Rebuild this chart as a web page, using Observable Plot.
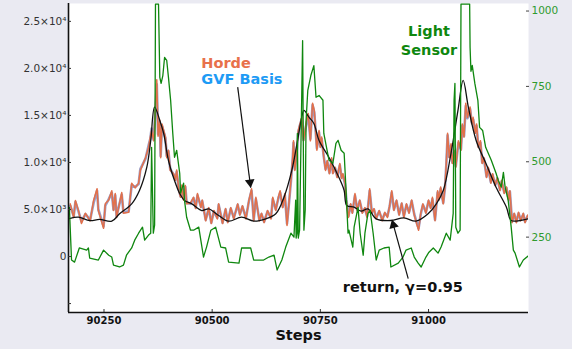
<!DOCTYPE html>
<html><head><meta charset="utf-8">
<script src="https://cdn.jsdelivr.net/npm/d3@7"></script>
<script src="https://cdn.jsdelivr.net/npm/@observablehq/plot@0.6"></script>
<style>body{margin:0;background:#eaeaf2;} svg{display:block}</style>
</head><body><div id="chart"></div>
<script>
const xTicks = [90250, 90500, 90750, 91000];
const yTicks = [-5000, 0, 5000, 10000, 15000, 20000, 25000];
const yTickLabels = ["", "0", "5.0×10³", "1.0×10⁴", "1.5×10⁴", "2.0×10⁴", "2.5×10⁴"];
const rightTicks = [250, 500, 750, 1000];

const hordeSteps = [
90172,90180,90184,90191,90198,90207,90218,90226,90234,90237,
90249,90253,90261,90268,90272,90276,90279,90291,90295,90307,
90314,90322,90330,90334,90346,90353,90357,90360,90365,90372,
90375,90379,90381,90384,90392,90395,90399,90403,90411,90415,
90418,90423,90427,90430,90434,90438,90441,90450,90457,90462,
90466,90474,90477,90485,90492,90498,90504,90512,90515,90524,
90531,90536,90543,90550,90559,90564,90570,90578,90585,90591,
90596,90601,90609,90614,90620,90628,90636,90640,90647,90653,
90657,90663,90668,90673,90678,90682,90686,90688,90691,90696,
90699,90703,90707,90711,90717,90722,90727,90732,90736,90742,
90747,90750,90753,90758,90762,90766,90771,90776,90779,90784,
90789,90795,90799,90802,90807,90810,90815,90820,90824,90830,
90835,90841,90847,90853,90858,90864,90869,90874,90879,90886,
90893,90899,90905,90910,90915,90920,90926,90932,90938,90943,
90949,90955,90961,90967,90972,90977,90982,90987,90994,91000,
91005,91009,91015,91021,91024,91028,91034,91038,91041,91044,
91048,91052,91055,91059,91063,91069,91075,91078,91082,91086,
91090,91096,91100,91103,91108,91111,91115,91120,91124,91128,
91134,91138,91144,91148,91154,91159,91165,91169,91175,91180,
91185,91188,91193,91198,91203,91208,91213,91219,91223,91229];
const hordeValues = [
5600,4150,5960,4900,3500,4600,3800,5960,7200,4900,
3000,5600,6000,7000,4900,6700,4150,6800,4600,4700,
7800,7300,7800,9150,10500,11600,12700,13400,12300,18800,
12800,14500,10500,14100,12700,10500,11300,9150,8800,8100,
9200,7000,6300,7600,6000,7550,5600,5700,6300,5100,
6700,5200,6000,3800,5200,3500,4900,4000,5600,3500,
5100,3600,5200,4000,5600,4400,5400,4000,6000,7200,
3800,6300,3800,4600,3600,4900,4000,6300,4900,6300,
7000,5200,6700,3300,6000,8100,10500,12300,9150,11600,
13400,14100,14800,12300,14100,15200,12300,16300,15500,11300,
13400,11600,12700,10500,9150,10200,8800,10500,8800,9500,
8400,9900,8300,8800,7800,6000,4150,5600,4600,6700,
4900,6000,4600,5200,4150,7200,4600,5100,4000,4900,
3800,4700,4150,5400,7000,4900,6000,4400,5700,4150,
5600,4600,6000,4400,3600,2800,4600,5600,4600,6000,
5100,6300,3800,7000,6000,7400,5600,7400,9900,13100,
10500,12000,9900,11300,9500,12300,11300,14100,12700,16300,
14800,15900,14100,14800,13100,14100,11600,12300,9900,10500,
8400,9500,7800,8800,7550,8400,7000,8100,6700,7400,
6000,7000,3600,4600,3600,4700,3800,4600,3600,4400];
const gvfValues = [
5400,4300,5800,4800,3700,4500,3900,5700,7000,5000,
3200,5400,6100,6800,5000,6500,4300,6600,4700,4800,
7600,7400,7700,9300,10400,11800,12500,13600,12400,18300,
13000,14300,10700,13900,12600,10700,11200,9300,8700,8200,
9000,7100,6400,7500,6100,7400,5700,5600,6200,5200,
6500,5300,5900,3900,5100,3600,4800,4100,5500,3600,
5000,3700,5100,4100,5500,4500,5300,4100,5900,7000,
3900,6100,3900,4500,3700,4800,4100,6100,5000,6200,
6800,5300,6500,3500,5900,8000,10300,12100,9300,11500,
13200,14000,14600,12400,13900,15000,12500,16100,15300,11500,
13200,11700,12500,10600,9300,10100,8900,10300,8900,9400,
8500,9700,8400,8700,7700,6100,4300,5500,4700,6500,
5000,5900,4700,5100,4300,7000,4700,5000,4100,4800,
3900,4600,4300,5300,6800,5000,5900,4500,5600,4300,
5500,4700,5900,4500,3700,3000,4500,5500,4700,5900,
5200,6100,3900,6800,6100,7200,5700,7300,9700,12900,
10600,11800,10000,11100,9600,12100,11400,13900,12800,16000,
14700,15700,14200,14600,13200,13900,11700,12100,10000,10400,
8500,9300,7900,8700,7600,8300,7100,8000,6800,7300,
6100,6900,3700,4500,3700,4600,3900,4500,3700,4300];

const returnSteps = [90170,90191,90217,90240,90268,90286,90314,90332,90349,90358,90367,90379,90388,90399,90413,90425,90436,90453,90476,90492,90515,90538,90568,90596,90624,90647,90666,90684,90696,90707,90712,90724,90735,90747,90770,90793,90805,90811,90828,90844,90860,90879,90913,90943,90971,90999,91018,91034,91052,91068,91080,91092,91110,91133,91156,91180,91191,91212,91230];
const returnValues = [4040,4180,3830,3940,3760,4540,5600,7020,9500,12340,15880,14470,13080,10210,8085,6700,5960,5600,4890,5070,4360,3760,4180,3760,4010,4540,6310,9150,11990,14800,15530,14790,14150,12340,10530,8400,7020,5430,5250,4820,5070,4010,3830,4110,3760,4540,5600,7020,11000,15530,18720,15880,12340,9860,7370,5250,3830,3830,4010];

const lightSteps = [90170,90175,90182,90193,90210,90214,90217,90237,90249,90261,90268,90272,90286,90295,90302,90314,90321,90330,90339,90344,90353,90358,90360,90364,90367,90369,90376,90379,90382,90386,90390,90395,90399,90404,90409,90413,90418,90425,90427,90434,90436,90441,90450,90457,90469,90480,90487,90497,90508,90520,90531,90538,90562,90568,90589,90596,90619,90631,90643,90650,90661,90670,90682,90689,90693,90694,90696,90697,90699,90702,90709,90712,90715,90717,90721,90728,90735,90740,90747,90756,90758,90770,90779,90786,90791,90798,90805,90809,90814,90816,90825,90828,90837,90842,90849,90853,90860,90865,90872,90879,90886,90897,90909,90913,90930,90941,90948,90960,90967,90976,90983,90994,91001,91011,91022,91029,91041,91050,91057,91059,91061,91063,91068,91073,91075,91095,91096,91098,91101,91107,91114,91118,91125,91132,91145,91156,91161,91168,91173,91177,91184,91191,91196,91200,91210,91219,91230];
const lightValues = [349,174,167,214,207,214,180,174,207,190,184,157,151,157,190,214,240,263,283,240,257,263,548,263,290,1023,1023,780,760,786,846,836,780,704,594,515,538,462,396,429,373,316,273,273,283,184,217,273,283,217,214,167,164,214,214,174,174,184,190,141,174,217,263,250,373,247,263,594,247,273,902,273,340,637,737,786,819,714,720,704,594,505,495,561,571,538,528,416,263,273,217,283,349,263,190,263,329,339,263,174,207,214,217,151,164,184,207,214,184,164,151,184,200,214,197,217,263,240,329,704,760,283,263,273,1023,1023,879,800,820,760,704,614,604,548,505,462,439,416,465,416,373,283,207,197,151,174,187];

const xDomain = [90168, 91231];
const yDomain = [-5950, 26900];
const rightDomain = [0, 1025];
const toLeft = r => yDomain[0] + (r - rightDomain[0]) / (rightDomain[1] - rightDomain[0]) * (yDomain[1] - yDomain[0]);
const fromLeft = v => rightDomain[0] + (v - yDomain[0]) / (yDomain[1] - yDomain[0]) * (rightDomain[1] - rightDomain[0]);

const horde = hordeSteps.map((s, i) => ({step: s, value: hordeValues[i]}));
const gvf = hordeSteps.map((s, i) => ({step: s, value: gvfValues[i]}));
const ret = returnSteps.map((s, i) => ({step: s, value: returnValues[i]}));
const light = lightSteps.map((s, i) => ({step: s, value: lightValues[i]}));

const arrows = [
  {x1: 90559, y1: 18010, x2: 90589, y2: 7340, rot: 172.6},
  {x1: 90953, y1: -2340, x2: 90917, y2: 3650, rot: -15.2}
];
const heads = arrows.map(a => ({x: a.x1 + 0.95 * (a.x2 - a.x1), y: a.y1 + 0.95 * (a.y2 - a.y1), rot: a.rot}));

const F = "DejaVu Sans";
const plot = Plot.plot({
  width: 572, height: 349,
  marginLeft: 68, marginRight: 44, marginTop: 3, marginBottom: 37,
  style: {background: "#eaeaf2", fontFamily: F, fontSize: "10.5px", overflow: "visible"},
  x: {domain: xDomain},
  y: {domain: yDomain},
  marks: [
    Plot.frame({fill: "white", stroke: "none"}),
    Plot.line(gvf, {x: "step", y: "value", stroke: "#9b9ec8", strokeWidth: 2.6, clip: true}),
    Plot.line(horde, {x: "step", y: "value", stroke: "#e3704a", strokeWidth: 1.5, clip: true}),
    Plot.line(ret, {x: "step", y: "value", stroke: "#111", strokeWidth: 1.3, curve: "catmull-rom", clip: true}),
    Plot.line(light, {x: "step", y: d => toLeft(d.value), stroke: "#0f870f", strokeWidth: 1.3, clip: true}),
    Plot.ruleX([xDomain[0]], {stroke: "#111", strokeWidth: 1.6}),
    Plot.ruleY([yDomain[0]], {stroke: "#111", strokeWidth: 1.6}),
    Plot.axisX(xTicks, {label: null, tickSize: 0, tickPadding: 4, tickFormat: d3.format("d"), fontWeight: "bold", fontSize: 10, fill: "#111"}),
    Plot.axisX(xTicks, {label: null, tickSize: -3, tickFormat: () => "", stroke: "#333"}),
    Plot.axisY(yTicks, {label: null, tickSize: 0, tickPadding: 2, tickFormat: d => yTickLabels[yTicks.indexOf(d)], fontSize: 10.5, fill: "#333"}),
    Plot.axisY(yTicks, {label: null, tickSize: -3, tickFormat: () => "", stroke: "#333"}),
    Plot.axisY(rightTicks.map(toLeft), {anchor: "right", label: null, tickSize: 0, tickPadding: 3, tickFormat: d => String(Math.round(fromLeft(d))), fontSize: 10.5, fill: "#2e9a2e"}),
    Plot.axisY(rightTicks.map(toLeft), {anchor: "right", label: null, tickSize: -3, tickFormat: () => "", stroke: "#444"}),
    Plot.text(["Steps"], {frameAnchor: "bottom", dy: 27, fontSize: 14.5, fontWeight: "bold", fill: "#111"}),
    Plot.text(["Horde"], {x: 90475, y: 20500, textAnchor: "start", fontSize: 14.5, fontWeight: "bold", fill: "#e8714b"}),
    Plot.text(["GVF Basis"], {x: 90475, y: 18860, textAnchor: "start", fontSize: 14.5, fontWeight: "bold", fill: "#1e9bf5"}),
    Plot.text(["Light"], {x: 91001, y: 23900, fontSize: 14.5, fontWeight: "bold", fill: "#0f870f"}),
    Plot.text(["Sensor"], {x: 91001, y: 21870, fontSize: 14.5, fontWeight: "bold", fill: "#0f870f"}),
    Plot.text(["return, γ=0.95"], {x: 90802, y: -3240, textAnchor: "start", fontSize: 14.5, fontWeight: "bold", fill: "#111"}),
    Plot.link(arrows, {x1: "x1", y1: "y1", x2: "x2", y2: "y2", stroke: "#111", strokeWidth: 1.2}),
    Plot.dot(heads, {x: "x", y: "y", symbol: "triangle", r: 3.6, rotate: "rot", fill: "#111", stroke: "none"})
  ]
});
document.getElementById("chart").appendChild(plot);
</script></body></html>
